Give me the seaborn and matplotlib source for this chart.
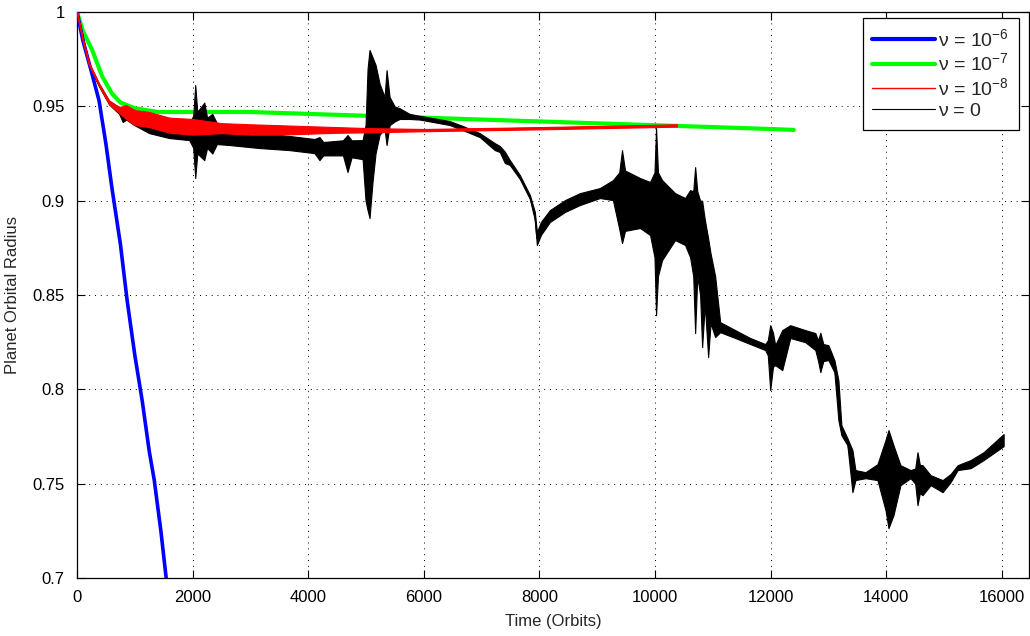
"""
Planet orbital radius vs time for several viscosities (MATLAB-style figure).
"""

import pandas as pd
import matplotlib

matplotlib.use("Agg")
import matplotlib.pyplot as plt
from matplotlib.ticker import FuncFormatter, MultipleLocator
import seaborn as sns

# ---- data ----
# nu = 1e-6 : fast inward migration
blue_t = [0, 100, 243, 381, 500, 607, 750, 867, 1000, 1127, 1250, 1335, 1450, 1542, 1600]
blue_r = [1.0, 0.985, 0.969, 0.953, 0.930, 0.906, 0.877, 0.847, 0.818, 0.794, 0.767,
          0.752, 0.725, 0.700, 0.685]

# nu = 1e-7 : smooth, slowly decaying
green_t = [0, 100, 260, 433, 600, 750, 1000, 1400, 2000, 3000, 4000, 5000, 6000,
           7000, 8000, 9000, 10000, 11000, 12000, 12400]
green_r = [1.0, 0.990, 0.980, 0.966, 0.957, 0.952, 0.949, 0.947, 0.947, 0.947, 0.946,
           0.945, 0.944, 0.943, 0.942, 0.941, 0.940, 0.939, 0.938, 0.9375]

# nu = 1e-8 : oscillating band (upper / lower envelope)
red_t = [0, 100, 208, 381, 555, 728, 850, 1000, 1250, 1600, 2000, 2500, 3000, 3500,
         4000, 4500, 5000, 6000, 7000, 8000, 9000, 10000, 10380]
red_hi = [1.0, 0.986, 0.973, 0.962, 0.953, 0.9496, 0.9507, 0.9480, 0.9470, 0.9440,
          0.9433, 0.9411, 0.9405, 0.9400, 0.9395, 0.9390, 0.9385, 0.9380, 0.9385,
          0.9390, 0.9396, 0.9402, 0.9405]
red_lo = [1.0, 0.985, 0.972, 0.961, 0.951, 0.9465, 0.9433, 0.9401, 0.9390, 0.9360,
          0.9350, 0.9358, 0.9350, 0.9350, 0.9355, 0.9360, 0.9362, 0.9368, 0.9373,
          0.9378, 0.9384, 0.9390, 0.9393]

# nu = 0 : inviscid run, upper / lower envelope of the oscillations
black_t = [
    0, 208, 381, 555, 728, 790, 850, 988, 1248, 1594,
    1941, 2010, 2045, 2080, 2201, 2250, 2340, 2420, 2634, 3154,
    3674, 4107, 4194, 4260, 4600, 4679, 4750, 4940, 4991, 5026,
    5060, 5112, 5164, 5234, 5320, 5355, 5407, 5494, 5580, 5754,
    5927, 6447, 6672, 6967, 7227, 7313, 7400, 7487, 7660, 7834,
    7920, 7955, 8024, 8180, 8440, 8700, 9046, 9271, 9380, 9428,
    9480, 9740, 9913, 9990, 10017, 10050, 10121, 10346, 10519, 10606,
    10660, 10693, 10730, 10779, 10814, 10860, 10918, 10960, 11039, 11126,
    11386, 11646, 11906, 11950, 11992, 12040, 12078, 12200, 12338, 12598,
    12772, 12820, 12859, 12910, 12998, 13102, 13171, 13223, 13327, 13414,
    13466, 13639, 13847, 13986, 14038, 14124, 14245, 14419, 14500, 14540,
    14580, 14627, 14766, 14974, 15112, 15234, 15459, 15684, 16030,
]
black_hi = [
    1.0, 0.9730, 0.9620, 0.9530, 0.9496, 0.9480, 0.9470, 0.9470, 0.9438, 0.9417,
    0.9411, 0.9450, 0.9613, 0.9470, 0.9520, 0.9440, 0.9460, 0.9410, 0.9374, 0.9358,
    0.9343, 0.9327, 0.9337, 0.9311, 0.9320, 0.9348, 0.9320, 0.9321, 0.9400, 0.9700,
    0.9799, 0.9760, 0.9720, 0.9620, 0.9550, 0.9692, 0.9550, 0.9500, 0.9490, 0.9460,
    0.9450, 0.9422, 0.9396, 0.9358, 0.9305, 0.9290, 0.9260, 0.9215, 0.9136, 0.9030,
    0.8940, 0.8834, 0.8887, 0.8950, 0.9003, 0.9040, 0.9067, 0.9109, 0.9150, 0.9268,
    0.9160, 0.9120, 0.9099, 0.9150, 0.9385, 0.9150, 0.9109, 0.9040, 0.9014, 0.9056,
    0.9050, 0.9178, 0.9050, 0.9000, 0.9000, 0.8900, 0.8800, 0.8720, 0.8600, 0.8356,
    0.8314, 0.8272, 0.8240, 0.8260, 0.8340, 0.8300, 0.8234, 0.8314, 0.8340, 0.8314,
    0.8298, 0.8260, 0.8300, 0.8240, 0.8234, 0.8155, 0.8049, 0.7810, 0.7741, 0.7678,
    0.7572, 0.7561, 0.7603, 0.7731, 0.7784, 0.7704, 0.7598, 0.7572, 0.7580, 0.7667,
    0.7600, 0.7598, 0.7545, 0.7519, 0.7551, 0.7598, 0.7625, 0.7667, 0.7763,
]
black_lo = [
    1.0, 0.9715, 0.9605, 0.9510, 0.9460, 0.9417, 0.9430, 0.9401, 0.9358, 0.9332,
    0.9321, 0.9280, 0.9120, 0.9250, 0.9215, 0.9280, 0.9250, 0.9300, 0.9295, 0.9279,
    0.9268, 0.9252, 0.9215, 0.9240, 0.9240, 0.9152, 0.9230, 0.9220, 0.9000, 0.8950,
    0.8908, 0.9100, 0.9250, 0.9350, 0.9380, 0.9295, 0.9400, 0.9420, 0.9433, 0.9433,
    0.9430, 0.9401, 0.9374, 0.9337, 0.9268, 0.9258, 0.9200, 0.9189, 0.9115, 0.9009,
    0.8897, 0.8765, 0.8818, 0.8887, 0.8940, 0.8977, 0.9014, 0.9003, 0.8850, 0.8775,
    0.8840, 0.8855, 0.8818, 0.8700, 0.8393, 0.8600, 0.8685, 0.8791, 0.8765, 0.8700,
    0.8600, 0.8298, 0.8600, 0.8500, 0.8224, 0.8450, 0.8171, 0.8350, 0.8277, 0.8303,
    0.8272, 0.8240, 0.8208, 0.8180, 0.7996, 0.8120, 0.8128, 0.8102, 0.8272, 0.8250,
    0.8208, 0.8150, 0.8091, 0.8150, 0.8155, 0.8091, 0.7837, 0.7757, 0.7704, 0.7455,
    0.7519, 0.7529, 0.7519, 0.7360, 0.7264, 0.7333, 0.7492, 0.7529, 0.7500, 0.7386,
    0.7450, 0.7439, 0.7492, 0.7455, 0.7508, 0.7572, 0.7582, 0.7625, 0.7699,
]

labels = [r"ν = 10$^{-6}$", r"ν = 10$^{-7}$", r"ν = 10$^{-8}$", "ν = 0"]


def make_plot():
    sns.set_style("ticks")
    plt.rcParams["font.family"] = ["Liberation Sans", "DejaVu Sans"]
    plt.rcParams["mathtext.default"] = "regular"

    fig = plt.figure(figsize=(10.3, 6.36), dpi=100)
    ax = fig.add_axes([0.0748, 0.0912, 0.9243, 0.8899])

    # smooth curves
    sns.lineplot(x=blue_t, y=blue_r, ax=ax, color="#0000ff", lw=2.6, zorder=4,
                 label=labels[0])
    sns.lineplot(x=green_t, y=green_r, ax=ax, color="#00ff00", lw=3.0, zorder=2,
                 label=labels[1])

    # oscillating runs: band + mid line
    red = pd.DataFrame({"t": red_t, "hi": red_hi, "lo": red_lo})
    red["mid"] = (red["hi"] + red["lo"]) / 2
    black = pd.DataFrame({"t": black_t, "hi": black_hi, "lo": black_lo})
    black["mid"] = (black["hi"] + black["lo"]) / 2

    ax.fill_between(black["t"], black["lo"], black["hi"], color="black", lw=0.8,
                    zorder=3)
    ax.fill_between(red["t"], red["lo"], red["hi"], color="#ff0000", lw=0.8,
                    zorder=5)
    sns.lineplot(data=red, x="t", y="mid", ax=ax, color="#ff0000", lw=1.0,
                 zorder=5, label=labels[2])
    sns.lineplot(data=black, x="t", y="mid", ax=ax, color="black", lw=0.8,
                 zorder=3, label=labels[3])

    ax.set_xlim(0, 16470)
    ax.set_ylim(0.7, 1.0)
    ax.xaxis.set_major_locator(MultipleLocator(2000))
    ax.yaxis.set_major_locator(MultipleLocator(0.05))
    ax.yaxis.set_major_formatter(FuncFormatter(lambda v, p: f"{v:g}"))

    ax.grid(True, color="black", linestyle=(0, (1, 5)), linewidth=0.7)
    ax.tick_params(direction="in", length=6, width=0.8, top=True, right=True,
                   labelsize=12, pad=9, colors="black")
    for sp in ax.spines.values():
        sp.set_visible(True)
        sp.set_color("black")
        sp.set_linewidth(0.9)

    ax.set_xlabel("Time (Orbits)", fontsize=12, labelpad=6)
    ax.set_ylabel("Planet Orbital Radius", fontsize=12, labelpad=9)

    leg = ax.legend(loc="upper right", bbox_to_anchor=(1 - 10 / 952, 1 - 6 / 566),
                    borderaxespad=0, fontsize=14, frameon=True, fancybox=False,
                    edgecolor="black", framealpha=1, handlelength=3.2,
                    handletextpad=0.2, labelspacing=0.15, borderpad=0.5)
    leg.get_frame().set_linewidth(0.9)
    for h, w in zip(leg.get_lines(), [3.0, 3.0, 1.0, 0.8]):
        h.set_linewidth(w)

    return fig


if __name__ == "__main__":
    fig = make_plot()
    fig.savefig("out.png", dpi=100, facecolor="white")
    plt.close(fig)
